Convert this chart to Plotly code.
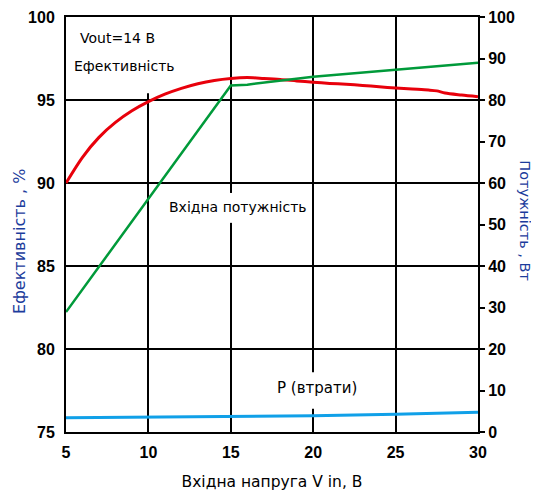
import plotly.graph_objects as go

# Data
v_eff = [5, 6, 7, 8, 9, 10, 11, 12, 13, 14, 15, 16, 17, 18, 19, 20, 21, 22, 23, 24, 25, 26, 27, 27.5, 28, 29, 30]
eff = [90, 91.55, 92.75, 93.65, 94.35, 94.9, 95.35, 95.7, 95.98, 96.18, 96.3, 96.35, 96.3, 96.24, 96.15,
       96.07, 96.0, 95.95, 95.88, 95.8, 95.72, 95.66, 95.6, 95.55, 95.42, 95.3, 95.2]

v_pin = [5, 15, 16, 20, 25, 30]
pin = [28.9, 83.5, 83.7, 85.6, 87.3, 89.0]

v_loss = [5, 10, 15, 20, 25, 30]
loss = [3.45, 3.6, 3.8, 3.9, 4.25, 4.75]

x_ticks = [5, 10, 15, 20, 25, 30]
y_left_ticks = [75, 80, 85, 90, 95, 100]
y_right_ticks = [0, 10, 20, 30, 40, 50, 60, 70, 80, 90, 100]

TXT = "DejaVu Sans"
TICK = "Liberation Sans"
BLUE_T = "#1c3c9c"

fig = go.Figure()
fig.add_trace(go.Scatter(x=v_eff, y=eff, mode="lines", line=dict(color="#e8000b", width=3),
                         line_shape="spline", line_smoothing=0.8, showlegend=False))
fig.add_trace(go.Scatter(x=v_pin, y=pin, mode="lines", line=dict(color="#009a3a", width=2.5),
                         yaxis="y2", showlegend=False))
fig.add_trace(go.Scatter(x=v_loss, y=loss, mode="lines", line=dict(color="#10a0e8", width=3),
                         yaxis="y2", showlegend=False))

# white gaps in gridlines behind text labels
for x0, x1, y0, y1 in [(9.6, 10.4, 95.4, 100), (14.6, 15.4, 87.6, 89.4), (19.6, 20.4, 76.4, 78.6)]:
    fig.add_shape(type="rect", x0=x0, x1=x1, y0=y0, y1=y1, xref="x", yref="y",
                  fillcolor="white", line=dict(width=0), layer="between")

ann = [
    ("Vout=14 В", 5.75, 98.73, 14),
    ("Ефективність", 5.39, 97.05, 14),
    ("Вхідна потужність", 11.15, 88.55, 14),
    ("P (втрати)", 17.68, 77.65, 15),
]
for t, x, y, s in ann:
    fig.add_annotation(text=t, x=x, y=y, xref="x", yref="y", xanchor="left", yanchor="middle",
                       showarrow=False, font=dict(family=TXT, size=s, color="black"))

# axis titles (left reads upward, right reads downward)
fig.add_annotation(text="Ефективність , %", xref="paper", yref="paper", x=0, y=0.458,
                   xanchor="center", yanchor="middle", xshift=-46, textangle=-90, showarrow=False,
                   font=dict(family=TXT, size=16, color=BLUE_T))
fig.add_annotation(text="Потужність , Вт", xref="paper", yref="paper", x=1, y=0.51,
                   xanchor="center", yanchor="middle", xshift=47, textangle=90, showarrow=False,
                   font=dict(family=TXT, size=14.5, color=BLUE_T))

fig.update_layout(
    width=531, height=483,
    margin=dict(l=58, r=61, t=9, b=59),
    paper_bgcolor="white", plot_bgcolor="white",
    xaxis=dict(range=[5, 30], tickvals=x_ticks, showgrid=True, gridcolor="black", gridwidth=2,
               showline=True, linecolor="black", linewidth=2, mirror=True, ticks="",
               zeroline=False, ticklabelstandoff=5, automargin=False,
               tickfont=dict(family=TICK, size=16, color="black", weight="bold"),
               title=dict(text="Вхідна напруга V in, В", font=dict(family=TXT, size=15.5, color="black"),
                          standoff=16)),
    yaxis=dict(range=[75, 100], tickvals=y_left_ticks, showgrid=True, gridcolor="black", gridwidth=2,
               showline=True, linecolor="black", linewidth=2, mirror=True, ticks="",
               zeroline=False, ticklabelstandoff=6, automargin=False,
               tickfont=dict(family=TICK, size=16, color="black", weight="bold")),
    yaxis2=dict(range=[0, 100], tickvals=y_right_ticks, overlaying="y", side="right", showgrid=False,
                showline=True, linecolor="black", linewidth=2, ticks="outside", ticklen=5,
                tickwidth=2, tickcolor="black", zeroline=False, automargin=False,
                tickfont=dict(family=TICK, size=16, color="black", weight="bold")),
)

fig.write_html("out.html")
